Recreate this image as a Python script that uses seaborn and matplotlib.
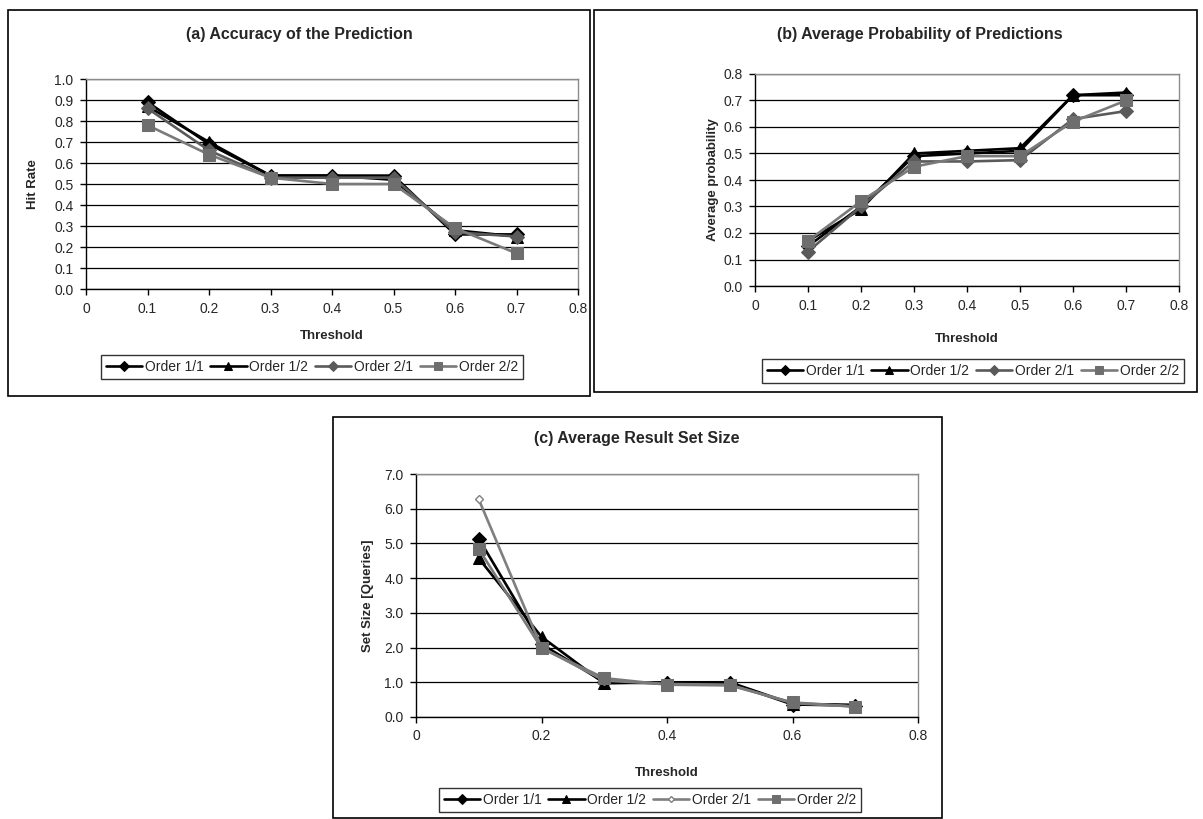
import matplotlib
matplotlib.use("Agg")
import matplotlib.pyplot as plt
from matplotlib.patches import Rectangle
import numpy as np
import pandas as pd
import seaborn as sns

# ---- data ----
thresholds = [0.1, 0.2, 0.3, 0.4, 0.5, 0.6, 0.7]
series_names = ["Order 1/1", "Order 1/2", "Order 2/1", "Order 2/2"]

hit_rate_11 = [0.89, 0.69, 0.54, 0.54, 0.54, 0.26, 0.26]
hit_rate_12 = [0.87, 0.70, 0.54, 0.54, 0.52, 0.28, 0.25]
hit_rate_21 = [0.86, 0.66, 0.53, 0.53, 0.53, 0.27, 0.25]
hit_rate_22 = [0.78, 0.64, 0.53, 0.50, 0.50, 0.29, 0.17]

avg_prob_11 = [0.15, 0.30, 0.49, 0.50, 0.51, 0.72, 0.72]
avg_prob_12 = [0.17, 0.29, 0.50, 0.51, 0.52, 0.72, 0.73]
avg_prob_21 = [0.13, 0.30, 0.47, 0.47, 0.475, 0.63, 0.66]
avg_prob_22 = [0.17, 0.32, 0.45, 0.49, 0.49, 0.62, 0.70]

set_size_11 = [5.14, 2.10, 1.00, 0.97, 0.98, 0.36, 0.33]
set_size_12 = [4.57, 2.31, 0.97, 1.00, 1.00, 0.38, 0.35]
set_size_21 = [6.27, 2.00, 1.05, 0.95, 0.93, 0.40, 0.30]
set_size_22 = [4.84, 1.98, 1.12, 0.93, 0.91, 0.42, 0.30]

sns.set_theme(style="white")
plt.rcParams["font.family"] = ["Liberation Sans", "DejaVu Sans"]

W, H = 1203, 819
fig = plt.figure(figsize=(W / 100, H / 100), dpi=100)


def px_rect(x0, x1, ytop, ybot):
    return [x0 / W, 1 - ybot / H, (x1 - x0) / W, (ybot - ytop) / H]


def panel_box(x0, x1, ytop, ybot):
    fig.patches.append(Rectangle((x0 / W, 1 - ybot / H), (x1 - x0) / W, (ybot - ytop) / H,
                                 transform=fig.transFigure, fill=False,
                                 edgecolor="black", linewidth=1.2, zorder=0))


def styles(light_21=False):
    st = [
        dict(color="black", marker="D", markersize=7, mfc="black", mec="black"),
        dict(color="black", marker="^", markersize=8, mfc="black", mec="black"),
        dict(color="#5a5a5a", marker="D", markersize=7, mfc="#5a5a5a", mec="#5a5a5a"),
        dict(color="#7a7a7a", marker="s", markersize=8, mfc="#6e6e6e", mec="#6e6e6e"),
    ]
    if light_21:
        st[2] = dict(color="#7f7f7f", marker="D", markersize=4, mfc="white", mec="#7f7f7f",
                     markeredgewidth=1.0)
    return st


def draw_panel(rect, ys, ymax, ystep, xticks, xfmt, yfmt, title, title_xy,
               ylabel, ylabel_x, xlabel_y, legend_xy, box, light_21=False):
    panel_box(*box)
    ax = fig.add_axes(px_rect(*rect))
    st = styles(light_21)
    for name, vals, s in zip(series_names, ys, st):
        df = pd.DataFrame({"Threshold": thresholds, "value": vals})
        sns.lineplot(data=df, x="Threshold", y="value", ax=ax, label=name,
                     linewidth=1.9, **s)
    ax.set_xlim(0, 0.8)
    ax.set_ylim(0, ymax)
    ax.set_xticks(xticks)
    ax.set_xticklabels([xfmt(v) for v in xticks], fontsize=10)
    yt = np.round(np.arange(0, ymax + ystep / 2, ystep), 3)
    ax.set_yticks(yt)
    ax.set_yticklabels([yfmt(v) for v in yt], fontsize=10)
    ax.yaxis.grid(True, color="black", linewidth=0.9)
    ax.xaxis.grid(False)
    ax.set_axisbelow(True)
    for side in ("left", "bottom"):
        ax.spines[side].set_color("black")
        ax.spines[side].set_linewidth(1.0)
    for side in ("top", "right"):
        ax.spines[side].set_color("#8c8c8c")
        ax.spines[side].set_linewidth(1.0)
    ax.tick_params(axis="both", direction="out", length=4, width=1, color="black",
                   bottom=True, left=True, pad=5)
    ax.set_xlabel("Threshold", fontsize=9.5, fontweight="bold")
    ax.set_ylabel(ylabel, fontsize=9.5, fontweight="bold")
    x0, x1, ytop, ybot = rect
    ax.yaxis.set_label_coords((ylabel_x - x0) / (x1 - x0), 0.5)
    ax.xaxis.set_label_coords(0.5, -(xlabel_y - ybot) / (ybot - ytop))
    fig.text(title_xy[0] / W, 1 - title_xy[1] / H, title, ha="center", va="center",
             fontsize=11.5, fontweight="bold")
    handles, labels = ax.get_legend_handles_labels()
    ax.legend_.remove()
    leg = fig.legend(handles, labels, loc="center", ncol=4,
                     bbox_to_anchor=(legend_xy[0] / W, 1 - legend_xy[1] / H),
                     fontsize=10, frameon=True, fancybox=False, handlelength=2.6,
                     handletextpad=0.2, columnspacing=0.5, borderpad=0.35,
                     borderaxespad=0, markerscale=0.75)
    leg.get_frame().set_edgecolor("black")
    leg.get_frame().set_linewidth(1.0)
    return ax


one_dec = lambda v: f"{v:.1f}"
xlab = lambda v: "0" if v == 0 else f"{v:.1f}"

# (a)
draw_panel((86, 578, 79, 289),
           [hit_rate_11, hit_rate_12, hit_rate_21, hit_rate_22],
           1.0, 0.1, [0, 0.1, 0.2, 0.3, 0.4, 0.5, 0.6, 0.7, 0.8], xlab, one_dec,
           "(a) Accuracy of the Prediction", (299, 35), "Hit Rate", 39, 330,
           (312, 367), (8, 590, 10, 396))

# (b)
draw_panel((755, 1179, 74, 286),
           [avg_prob_11, avg_prob_12, avg_prob_21, avg_prob_22],
           0.8, 0.1, [0, 0.1, 0.2, 0.3, 0.4, 0.5, 0.6, 0.7, 0.8], xlab, one_dec,
           "(b) Average Probability of Predictions", (920, 35), "Average probability", 719, 333,
           (973, 371), (594, 1197, 10, 392))

# (c)
draw_panel((416, 918, 474, 717),
           [set_size_11, set_size_12, set_size_21, set_size_22],
           7.0, 1.0, [0, 0.2, 0.4, 0.6, 0.8], xlab, one_dec,
           "(c) Average Result Set Size", (637, 438), "Set Size [Queries]", 374, 767,
           (650, 800), (333, 942, 417, 818), light_21=True)

fig.savefig("out.png", dpi=100)
